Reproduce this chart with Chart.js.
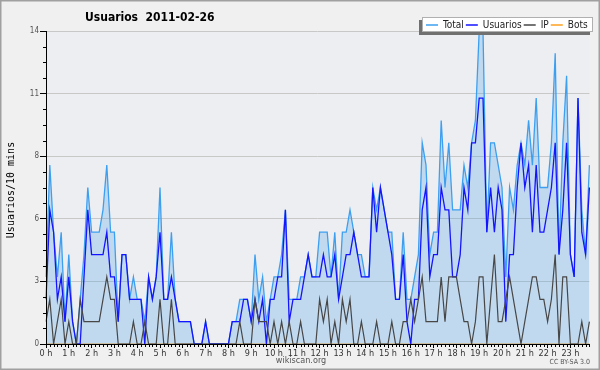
<!DOCTYPE html>
<html>
<head>
<meta charset="utf-8">
<title>Usuarios 2011-02-26</title>
<script src="https://cdn.jsdelivr.net/npm/chart.js@4.4.1/dist/chart.umd.min.js"></script>
<style>
  html, body { margin: 0; padding: 0; background: #f0f0f0; }
  canvas { display: block; }
</style>
</head>
<body>
<canvas id="chart" width="600" height="370"></canvas>
<script>
// Usuarios por tramo de 10 minutos (144 tramos), 2011-02-26
const total = [
  3, 8, 5, 3, 5, 1,   4, 1, 0, 2, 4, 7,   5, 5, 5, 6, 8, 5,   5, 1, 4, 4, 2, 3,
  2, 2, 1, 3, 2, 3,   7, 2, 2, 5, 2, 1,   1, 1, 1, 0, 0, 0,   1, 0, 0, 0, 0, 0,
  0, 1, 1, 2, 2, 2,   1, 4, 2, 3, 1, 2,   3, 3, 4, 6, 2, 2,   2, 3, 3, 4, 3, 3,
  5, 5, 5, 3, 5, 2,   5, 5, 6, 5, 4, 4,   3, 3, 7, 6, 7, 6,   5, 5, 2, 2, 5, 2,
  2, 3, 4, 9, 8, 4,   5, 5, 10, 7, 9, 6,  6, 6, 8, 7, 9, 10,  14, 14, 5, 9, 9, 8,
  7, 3, 7, 6, 8, 9,   8, 10, 8, 11, 7, 7, 7, 9, 13, 4, 9, 12, 4, 3, 11, 6, 4, 8
];
const usuarios = [
  2, 6, 5, 2, 3, 1,   3, 1, 0, 0, 3, 6,   4, 4, 4, 4, 5, 3,   3, 1, 4, 4, 2, 2,
  2, 2, 0, 3, 2, 3,   5, 2, 2, 3, 2, 1,   1, 1, 1, 0, 0, 0,   1, 0, 0, 0, 0, 0,
  0, 1, 1, 1, 2, 2,   1, 2, 1, 2, 0, 2,   2, 3, 3, 6, 1, 2,   2, 2, 3, 4, 3, 3,
  3, 4, 3, 3, 4, 2,   3, 4, 4, 5, 4, 3,   3, 3, 7, 5, 7, 6,   5, 4, 2, 2, 4, 1,
  0, 2, 2, 6, 7, 3,   4, 4, 7, 6, 6, 3,   3, 4, 7, 6, 9, 9,   11, 11, 5, 7, 5, 7,
  6, 1, 4, 4, 7, 9,   7, 8, 5, 8, 5, 5,   6, 7, 9, 4, 6, 9,   4, 3, 11, 5, 4, 7
];
const ip = [
  1, 2, 0, 1, 2, 0,   1, 0, 0, 2, 1, 1,   1, 1, 1, 2, 3, 2,   2, 0, 0, 0, 0, 1,
  0, 0, 1, 0, 0, 0,   2, 0, 0, 2, 0, 0,   0, 0, 0, 0, 0, 0,   0, 0, 0, 0, 0, 0,
  0, 0, 0, 1, 0, 0,   0, 2, 1, 1, 1, 0,   1, 0, 1, 0, 1, 0,   0, 1, 0, 0, 0, 0,
  2, 1, 2, 0, 1, 0,   2, 1, 2, 0, 0, 1,   0, 0, 0, 1, 0, 0,   0, 1, 0, 0, 1, 1,
  2, 1, 2, 3, 1, 1,   1, 1, 3, 1, 3, 3,   3, 2, 1, 1, 0, 1,   3, 3, 0, 2, 4, 1,
  1, 2, 3, 2, 1, 0,   1, 2, 3, 3, 2, 2,   1, 2, 4, 0, 3, 3,   0, 0, 0, 1, 0, 1
];
const bots = [
  0, 0, 0, 0, 0, 0,   0, 0, 0, 0, 0, 0,   0, 0, 0, 0, 0, 0,   0, 0, 0, 0, 0, 0,
  0, 0, 0, 0, 0, 0,   0, 0, 0, 0, 0, 0,   0, 0, 0, 0, 0, 0,   0, 0, 0, 0, 0, 0,
  0, 0, 0, 0, 0, 0,   0, 0, 0, 0, 0, 0,   0, 0, 0, 0, 0, 0,   0, 0, 0, 0, 0, 0,
  0, 0, 0, 0, 0, 0,   0, 0, 0, 0, 0, 0,   0, 0, 0, 0, 0, 0,   0, 0, 0, 0, 0, 0,
  0, 0, 0, 0, 0, 0,   0, 0, 0, 0, 0, 0,   0, 0, 0, 0, 0, 0,   0, 0, 0, 0, 0, 0,
  0, 0, 0, 0, 0, 0,   0, 0, 0, 0, 0, 0,   0, 0, 0, 0, 0, 0,   0, 0, 0, 0, 0, 0
];

const hourLabels = [
  "0 h", "1 h", "2 h", "3 h", "4 h", "5 h", "6 h", "7 h", "8 h", "9 h", "10 h", "11 h",
  "12 h", "13 h", "14 h", "15 h", "16 h", "17 h", "18 h", "19 h", "20 h", "21 h", "22 h", "23 h"
];
const yTickLabels = ["0", "3", "6", "8", "11", "14"];
const yMax = 14;

// un tramo cada 10 minutos
const slots = [];
hourLabels.forEach((h, i) => {
  for (let m = 0; m < 6; m++) slots.push(i + ":" + m + "0");
});

const FONT = '"DejaVu Sans Condensed", "DejaVu Sans", sans-serif';

// fondo, marco y zona del grafico
const background = {
  id: "background",
  beforeDraw(chart) {
    const { ctx, chartArea: a } = chart;
    ctx.save();
    ctx.fillStyle = "#f0f0f0";
    ctx.fillRect(0, 0, chart.width, chart.height);
    ctx.fillStyle = "#eceef1";
    ctx.fillRect(a.left, a.top, a.right - a.left, a.bottom - a.top);
    ctx.strokeStyle = "#a0a0a0";
    ctx.lineWidth = 1.5;
    ctx.strokeRect(0.75, 0.75, chart.width - 1.5, chart.height - 1.5);
    ctx.restore();
  },
};

// ejes, marcas menores, titulo, leyenda y pie
const decorations = {
  id: "decorations",
  afterDatasetsDraw(chart) {
    const { ctx, chartArea: a, scales } = chart;
    ctx.save();
    ctx.strokeStyle = "#000";
    ctx.lineWidth = 1;
    ctx.beginPath();
    ctx.moveTo(a.left, a.bottom + 0.5);
    ctx.lineTo(a.right, a.bottom + 0.5);
    ctx.moveTo(a.left + 0.5, a.top);
    ctx.lineTo(a.left + 0.5, a.bottom);
    // marcas menores del eje y (cada 0.7)
    for (let k = 1; k < 20; k++) {
      if (k % 4 === 0) continue;
      const y = Math.round(scales.y.getPixelForValue(k * 0.7)) + 0.5;
      ctx.moveTo(a.left - 3, y);
      ctx.lineTo(a.left, y);
    }
    // marcas de 10 minutos
    slots.forEach((s, i) => {
      if (i % 6 === 0) return;
      const x = Math.round(scales.x.getPixelForValue(i)) + 0.5;
      ctx.moveTo(x, a.bottom);
      ctx.lineTo(x, a.bottom + 3);
    });
    ctx.stroke();
    ctx.restore();
  },
  afterDraw(chart) {
    const { ctx } = chart;
    ctx.save();

    ctx.fillStyle = "#000";
    ctx.font = "bold 12px " + FONT;
    ctx.textBaseline = "alphabetic";
    ctx.fillText("Usuarios  2011-02-26", 85, 21);

    ctx.save();
    ctx.translate(11, 190);
    ctx.rotate(-Math.PI / 2);
    ctx.font = '10px "DejaVu Sans Mono", monospace';
    ctx.textAlign = "center";
    ctx.textBaseline = "middle";
    ctx.fillText("Usuarios/10 mins", 0, 0);
    ctx.restore();

    ctx.fillStyle = "#555";
    ctx.font = "9px " + FONT;
    ctx.textAlign = "center";
    ctx.textBaseline = "middle";
    ctx.fillText("wikiscan.org", 301, 361);
    ctx.font = "7px " + FONT;
    ctx.textAlign = "right";
    ctx.fillText("CC BY-SA 3.0", 590, 362);

    // leyenda
    const bx = 422, by = 17, bw = 171, bh = 15;
    ctx.fillStyle = "#707070";
    ctx.fillRect(bx - 3, by + 3, bw, bh);
    ctx.fillStyle = "#fff";
    ctx.fillRect(bx, by, bw, bh);
    ctx.strokeStyle = "#b0b0b0";
    ctx.lineWidth = 1;
    ctx.strokeRect(bx + 0.5, by + 0.5, bw - 1, bh - 1);
    ctx.font = "10px " + FONT;
    ctx.textAlign = "left";
    ctx.textBaseline = "middle";
    let x = bx + 4;
    const ly = Math.round(by + bh / 2);
    chart.data.datasets.forEach((ds) => {
      ctx.strokeStyle = ds.borderColor;
      ctx.lineWidth = 1.5;
      ctx.beginPath();
      ctx.moveTo(x, ly);
      ctx.lineTo(x + 12, ly);
      ctx.stroke();
      x += 17;
      ctx.fillStyle = "#222";
      ctx.fillText(ds.label, x, ly);
      x += ctx.measureText(ds.label).width + 2;
    });
    ctx.restore();
  },
};

new Chart(document.getElementById("chart"), {
  type: "line",
  data: {
    labels: slots,
    datasets: [
      {
        label: "Total",
        data: total,
        borderColor: "#3d9ff0",
        backgroundColor: "rgba(60,150,230,0.24)",
        fill: "origin",
        borderWidth: 1.3,
        order: 2,
      },
      {
        label: "Usuarios",
        data: usuarios,
        borderColor: "#1414ff",
        borderWidth: 1.3,
        fill: false,
        order: 1,
      },
      {
        label: "IP",
        data: ip,
        borderColor: "#474747",
        borderWidth: 1.2,
        fill: false,
        order: 0,
      },
      {
        label: "Bots",
        data: bots,
        borderColor: "#ffa020",
        borderWidth: 1.2,
        fill: false,
        order: 3,
      },
    ],
  },
  options: {
    responsive: false,
    animation: false,
    devicePixelRatio: 1,
    elements: { point: { radius: 0 }, line: { tension: 0 } },
    layout: { padding: { top: 31, right: 10.6, left: 0, bottom: 0 } },
    plugins: {
      legend: { display: false },
      title: { display: false },
      tooltip: { enabled: false },
    },
    scales: {
      x: {
        type: "category",
        offset: false,
        border: { display: false },
        grid: { drawOnChartArea: false, tickColor: "#000", tickLength: 4 },
        ticks: {
          autoSkip: false,
          maxRotation: 0,
          padding: 0,
          color: "#333",
          font: { family: FONT, size: 9 },
          callback: (v, i) => (i % 6 === 0 ? hourLabels[i / 6] : null),
        },
        afterFit: (scale) => { scale.height = 26; },
      },
      y: {
        min: 0,
        max: yMax,
        border: { display: false },
        grid: { color: "#c8c8c8", tickColor: "#000", tickLength: 6 },
        ticks: {
          stepSize: 2.8,
          padding: 1,
          color: "#555",
          font: { family: FONT, size: 8 },
          callback: (v, i) => yTickLabels[i],
        },
        afterFit: (scale) => { scale.width = 46; },
      },
    },
  },
  plugins: [background, decorations],
});
</script>
</body>
</html>
